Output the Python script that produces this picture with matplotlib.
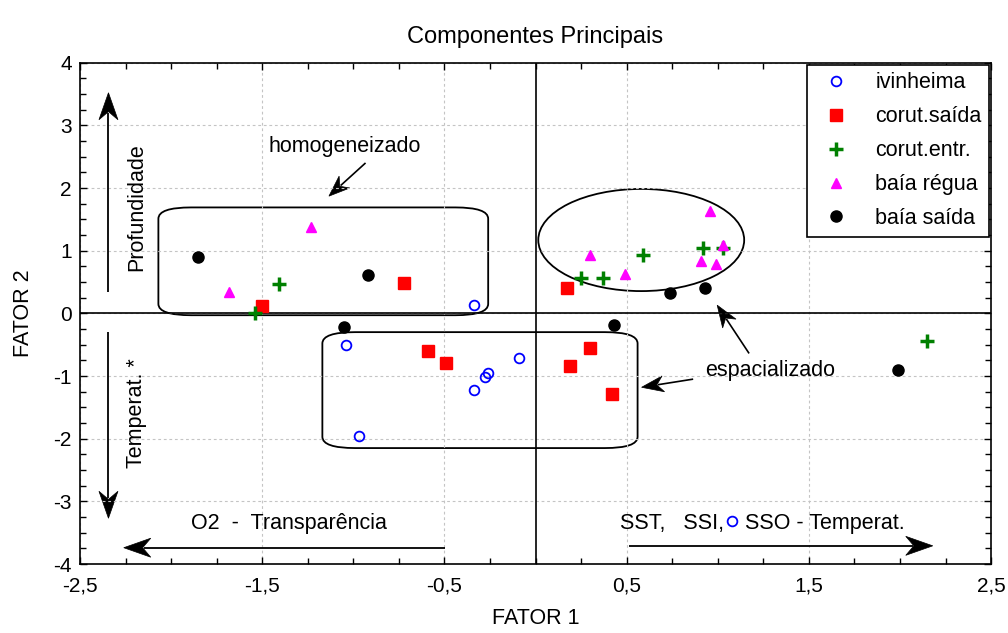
import numpy as np
import matplotlib
matplotlib.use('Agg')
import matplotlib.pyplot as plt
from matplotlib.patches import Ellipse, FancyBboxPatch, Polygon
from matplotlib.transforms import IdentityTransform
from matplotlib.ticker import MultipleLocator, FuncFormatter
from matplotlib.lines import Line2D

plt.rcParams['font.family'] = ['Liberation Sans', 'DejaVu Sans']

### scores of the two factors, one pair of lists per site
ivinheima_x = [-0.34, -1.04, -0.09, -0.26, -0.28, -0.34, -0.97, 1.08]
ivinheima_y = [0.14, -0.50, -0.71, -0.96, -1.02, -1.22, -1.95, -3.32]
corut_saida_x = [-1.50, -0.72, -0.59, -0.49, 0.30, 0.19, 0.42, 0.17]
corut_saida_y = [0.12, 0.48, -0.60, -0.80, -0.55, -0.84, -1.28, 0.41]
corut_entr_x = [-1.54, -1.41, 0.25, 0.37, 0.59, 0.92, 1.03, 2.15]
corut_entr_y = [0.00, 0.47, 0.57, 0.57, 0.93, 1.04, 1.05, -0.44]
baia_regua_x = [-1.68, -1.23, 0.30, 0.49, 0.91, 0.99, 1.03, 0.96]
baia_regua_y = [0.34, 1.37, 0.93, 0.62, 0.83, 0.78, 1.09, 1.64]
baia_saida_x = [-1.85, -0.92, -1.05, 0.43, 0.74, 0.93, 1.99]
baia_saida_y = [0.90, 0.61, -0.22, -0.19, 0.33, 0.41, -0.91]

labels = ['ivinheima', 'corut.saída', 'corut.entr.', 'baía régua', 'baía saída']

fig = plt.figure(figsize=(10.08, 6.33), dpi=100)
ax = fig.add_axes([0.0794, 0.109, 0.9038, 0.792])
ax.set_xlim(-2.5, 2.5)
ax.set_ylim(-4, 4)

### grid, zero lines, ticks
ax.xaxis.set_major_locator(MultipleLocator(1.0, offset=0.5))
ax.xaxis.set_minor_locator(MultipleLocator(0.25))
ax.yaxis.set_major_locator(MultipleLocator(1))
ax.yaxis.set_minor_locator(MultipleLocator(0.25))
ax.xaxis.set_major_formatter(FuncFormatter(lambda v, p: ('%.1f' % v).replace('.', ',')))
ax.yaxis.set_major_formatter(FuncFormatter(lambda v, p: '%d' % round(v)))
ax.grid(True, which='major', ls=(0, (2.5, 2.5)), color='#c4c4c4', lw=0.8)
ax.tick_params(which='both', direction='in', top=True, right=True, labelsize=15)
ax.tick_params(which='major', length=5, width=1)
ax.tick_params(which='minor', length=4, width=1)
ax.tick_params(axis='x', which='major', pad=9)
ax.tick_params(axis='y', which='major', pad=6)
for s in ax.spines.values():
    s.set_linewidth(1.2)
ax.axhline(0, color='k', lw=1.2)
ax.axvline(0, color='k', lw=1.2)

### points
h1, = ax.plot(ivinheima_x, ivinheima_y, 'o', mfc='none', mec='blue', ms=7, mew=1.3, ls='none')
h2, = ax.plot(corut_saida_x, corut_saida_y, 's', color='red', ms=8, ls='none')
h3, = ax.plot(corut_entr_x, corut_entr_y, '+', color='green', ms=10, mew=2.5, ls='none')
h4, = ax.plot(baia_regua_x, baia_regua_y, '^', color='magenta', ms=7.5, ls='none')
h5, = ax.plot(baia_saida_x, baia_saida_y, 'o', color='black', ms=8, ls='none')

leg = ax.legend([h1, h2, h3, h4, h5], labels, loc='upper right', fontsize=15.5,
                frameon=True, fancybox=False, edgecolor='black', framealpha=1,
                borderaxespad=0.1, handlelength=2.0, handletextpad=0.8,
                labelspacing=0.6, borderpad=0.35, numpoints=1)
leg.get_frame().set_linewidth(1.2)

### groups
ax.add_patch(FancyBboxPatch((-2.07, -0.03), 1.81, 1.72,
                            boxstyle='round,pad=0,rounding_size=0.18',
                            fc='none', ec='black', lw=1.3))
ax.add_patch(FancyBboxPatch((-1.17, -2.15), 1.73, 1.85,
                            boxstyle='round,pad=0,rounding_size=0.18',
                            fc='none', ec='black', lw=1.3))
ax.add_patch(Ellipse((0.58, 1.17), 1.13, 1.63, fc='none', ec='black', lw=1.3))


def arrow(x0, y0, x1, y1, hl=27, hw=9.5, lw=1.3):
    p0 = ax.transData.transform((x0, y0))
    p1 = ax.transData.transform((x1, y1))
    ang = np.arctan2(p1[1] - p0[1], p1[0] - p0[0])
    R = np.array([[np.cos(ang), -np.sin(ang)], [np.sin(ang), np.cos(ang)]])
    head = np.array([[0, 0], [-hl, hw], [-0.7 * hl, 0], [-hl, -hw]])
    pts = head @ R.T + p1
    back = p1 + R @ np.array([-0.75 * hl, 0])
    ax.add_line(Line2D([p0[0], back[0]], [p0[1], back[1]], color='k', lw=lw,
                       transform=IdentityTransform(), solid_capstyle='butt'))
    ax.add_patch(Polygon(pts, closed=True, fc='k', ec='k', lw=0.5,
                         transform=IdentityTransform()))


arrow(-2.344, 0.335, -2.344, 3.52)
arrow(-2.344, -0.29, -2.344, -3.27)
arrow(-0.495, -3.74, -2.26, -3.74)
arrow(0.512, -3.71, 2.18, -3.71)
arrow(-0.933, 2.40, -1.134, 1.87, hl=21, hw=8, lw=1.2)
arrow(1.172, -0.64, 0.997, 0.13, hl=22, hw=8, lw=1.2)
arrow(0.865, -1.05, 0.582, -1.18, hl=22, hw=8, lw=1.2)

### annotations
ax.text(-2.19, 1.70, 'Profundidade', rotation=90, ha='center', va='center', fontsize=15.5)
ax.text(-2.19, -1.59, 'Temperat. *', rotation=90, ha='center', va='center', fontsize=15.5)
ax.text(-1.047, 2.66, 'homogeneizado', ha='center', va='center', fontsize=15.5)
ax.text(1.29, -0.92, 'espacializado', ha='center', va='center', fontsize=15.5)
ax.text(-1.356, -3.35, 'O2  -  Transparência', ha='center', va='center', fontsize=15.5)
ax.text(1.035, -3.35, 'SST,   SSI,', ha='right', va='center', fontsize=15.5)
ax.text(1.149, -3.35, 'SSO - Temperat.', ha='left', va='center', fontsize=15.5)

ax.set_title('Componentes Principais', fontsize=17, pad=14)
ax.set_xlabel('FATOR 1', fontsize=15.5, labelpad=9)
ax.set_ylabel('FATOR 2', fontsize=15.5, labelpad=14)

fig.savefig('out.png', dpi=100)
